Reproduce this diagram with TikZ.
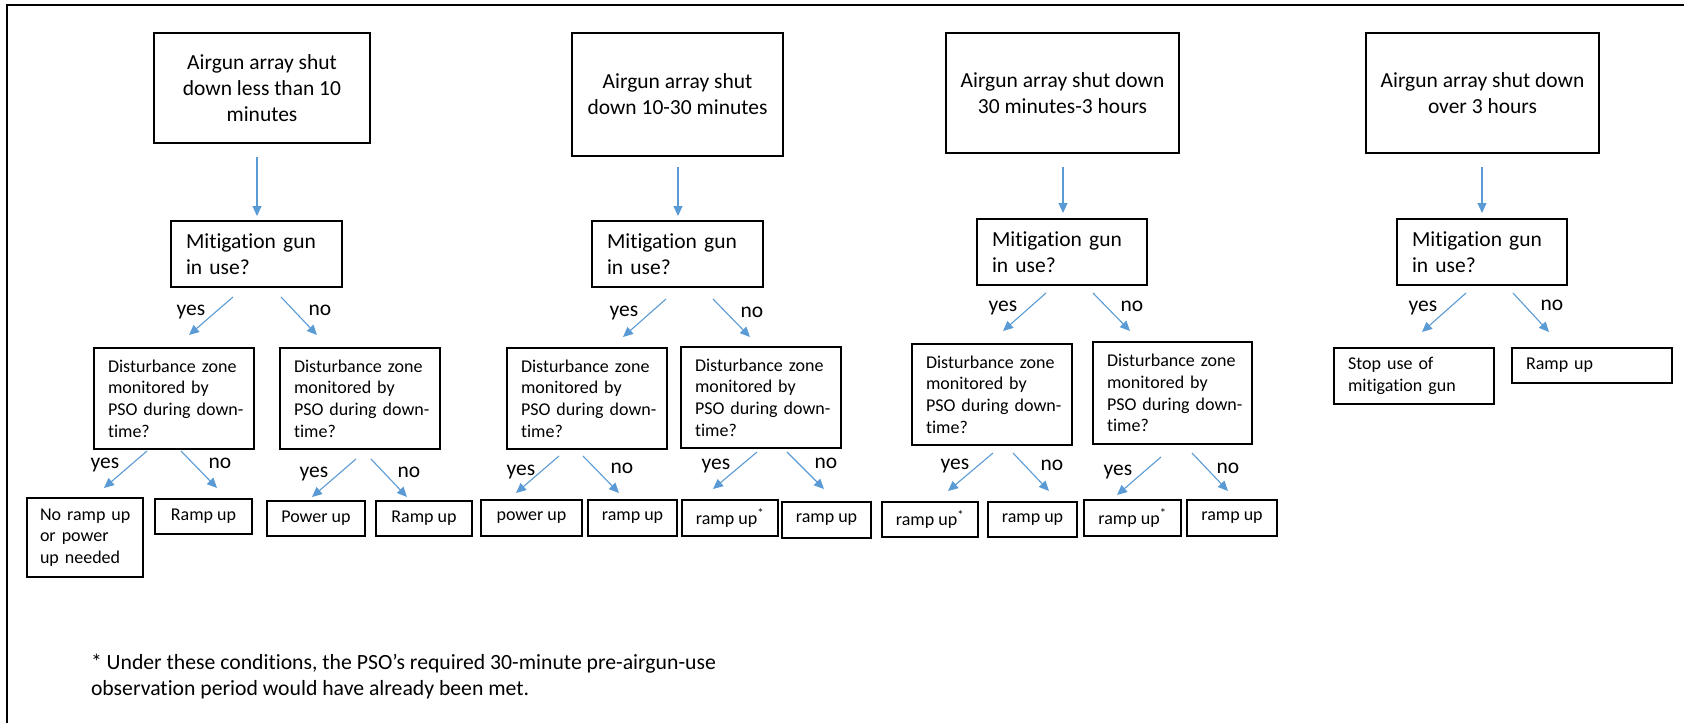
\documentclass[tikz,border=0pt]{standalone}
\usepackage{fontspec}
\setmainfont{Carlito}[Ligatures=NoCommon]
\usetikzlibrary{arrows.meta}
\definecolor{arrblue}{RGB}{91,155,213}
\newcommand\dzone{\mbox{Disturbance zone}\\\mbox{monitored by}\\\mbox{PSO during down-}\\time?}
\begin{document}
\begin{tikzpicture}[x=1pt,y=-1pt,
  every node/.style={inner sep=0pt, outer sep=0pt},
  frame/.style={line width=1.5pt},
  tbox/.style={draw, line width=1.4pt, align=center, font=\fontsize{21.5}{26}\selectfont},
  mbox/.style={draw, line width=1.4pt, align=left, inner xsep=15pt, minimum height=66pt, font=\fontsize{21.5}{26}\selectfont},
  dbox/.style={draw, line width=1.4pt, align=left, inner xsep=14pt, text width=132pt, minimum height=101pt, font=\fontsize{18}{21.7}\selectfont},
  rbox/.style={draw, line width=1.4pt, align=center, minimum height=35pt, font=\fontsize{18}{21}\selectfont},
  lbox/.style={draw, line width=1.4pt, align=left, inner xsep=14pt, font=\fontsize{18}{21.5}\selectfont},
  lab/.style={font=\fontsize{21.5}{25}\selectfont},
  arr/.style={draw=arrblue, line width=1.1pt, -{Triangle[length=10pt,width=9pt]}},
  fnote/.style={font=\fontsize{21.7}{26}\selectfont, align=left, anchor=west}
]
\fill[white] (0,0) rectangle (1684,723);
\useasboundingbox (0,0) rectangle (1684,723);
\draw[frame] (7,723) -- (7,5) -- (1684,5);

% ---------- column 1 ----------
\node[tbox, minimum width=216pt, minimum height=110pt] (top1) at (262,88) {Airgun array shut\\down less than 10\\minutes};
\node[mbox, text width=141pt] (mit1) at (256.5,254) {Mitigation gun\\in use?};
\node[dbox] (d1) at (174,398.5) {\dzone};
\node[dbox] (d2) at (360,398.5) {\dzone};
\node[lbox, inner xsep=13pt, text width=90pt, minimum height=79pt] (r1a) at (85,537.5) {\mbox{No ramp up}\\or power\\up needed};
\node[rbox, minimum width=97pt] (r1b) at (203.5,516.5) {Ramp up};
\node[rbox, minimum width=98pt] (r1c) at (316,518.5) {Power up};
\node[rbox, minimum width=96pt] (r1d) at (424,518.5) {Ramp up};

% ---------- column 2 ----------
\node[tbox, minimum width=211pt, minimum height=123pt] (top2) at (677.5,94.5) {Airgun array shut\\down 10-30 minutes};
\node[mbox, text width=141pt] (mit2) at (677.5,254) {Mitigation gun\\in use?};
\node[dbox] (d3) at (587,398.5) {\dzone};
\node[dbox] (d4) at (761,397.5) {\dzone};
\node[rbox, minimum width=101pt, minimum height=36pt] (r2a) at (531.5,518) {power up};
\node[rbox, minimum width=89pt, minimum height=36pt] (r2b) at (632.5,518) {ramp up};
\node[rbox, minimum width=96pt, minimum height=36pt] (r2c) at (730,518) {ramp up\textsuperscript{*}};
\node[rbox, minimum width=89pt, minimum height=36pt] (r2d) at (826.5,520) {ramp up};

% ---------- column 3 ----------
\node[tbox, minimum width=233pt, minimum height=120pt] (top3) at (1062.5,93) {Airgun array shut down\\30 minutes-3 hours};
\node[mbox, text width=140pt] (mit3) at (1062,252) {Mitigation gun\\in use?};
\node[dbox] (d5) at (992,394.5) {\dzone};
\node[dbox, text width=131pt, minimum height=102pt] (d6) at (1172.5,393) {\dzone};
\node[rbox, minimum width=96pt] (r3a) at (930,519.5) {ramp up\textsuperscript{*}};
\node[rbox, minimum width=89pt] (r3b) at (1032.5,519.5) {ramp up};
\node[rbox, minimum width=97pt, minimum height=36pt] (r3c) at (1132.5,518) {ramp up\textsuperscript{*}};
\node[rbox, minimum width=90pt, minimum height=36pt] (r3d) at (1232,518) {ramp up};

% ---------- column 4 ----------
\node[tbox, minimum width=233pt, minimum height=120pt] (top4) at (1482.5,93) {Airgun array shut down\\over 3 hours};
\node[mbox, text width=140pt] (mit4) at (1482,252) {Mitigation gun\\in use?};
\node[lbox, text width=132pt, minimum height=56pt] (r4a) at (1414,376) {Stop use of\\mitigation gun};
\node[lbox, text width=132pt, minimum height=35pt] (r4b) at (1592,365.5) {Ramp up};

% ---------- arrow end points ----------
\coordinate (v1s) at (257,157);   \coordinate (v1e) at (257,216);
\coordinate (m1ys) at (233,297);  \coordinate (m1ye) at (189,335);
\coordinate (m1ns) at (281,297);  \coordinate (m1ne) at (317,335);
\coordinate (d1ys) at (147,451);  \coordinate (d1ye) at (104,488);
\coordinate (d1ns) at (181,451);  \coordinate (d1ne) at (217,488);
\coordinate (d2ys) at (356,459);  \coordinate (d2ye) at (312,497);
\coordinate (d2ns) at (371,459);  \coordinate (d2ne) at (407,497);

\coordinate (v2s) at (678,167);   \coordinate (v2e) at (678,216);
\coordinate (m2ys) at (666,299);  \coordinate (m2ye) at (623,337);
\coordinate (m2ns) at (713,299);  \coordinate (m2ne) at (750,337);
\coordinate (d3ys) at (559,456);  \coordinate (d3ye) at (516,493);
\coordinate (d3ns) at (583,456);  \coordinate (d3ne) at (619,493);
\coordinate (d4ys) at (757,452);  \coordinate (d4ye) at (713,489);
\coordinate (d4ns) at (787,452);  \coordinate (d4ne) at (824,489);

\coordinate (v3s) at (1063,167);  \coordinate (v3e) at (1063,213);
\coordinate (m3ys) at (1046,293); \coordinate (m3ye) at (1003,331);
\coordinate (m3ns) at (1093,293); \coordinate (m3ne) at (1130,331);
\coordinate (d5ys) at (993,453);  \coordinate (d5ye) at (948,491);
\coordinate (d5ns) at (1013,453); \coordinate (d5ne) at (1049,491);
\coordinate (d6ys) at (1161,457); \coordinate (d6ye) at (1117,495);
\coordinate (d6ns) at (1192,453); \coordinate (d6ne) at (1228,491);

\coordinate (v4s) at (1482,167);  \coordinate (v4e) at (1482,213);
\coordinate (m4ys) at (1466,293); \coordinate (m4ye) at (1422,332);
\coordinate (m4ns) at (1513,293); \coordinate (m4ne) at (1549,332);

\foreach \a in {v1,m1y,m1n,d1y,d1n,d2y,d2n,v2,m2y,m2n,d3y,d3n,d4y,d4n,
                v3,m3y,m3n,d5y,d5n,d6y,d6n,v4,m4y,m4n}
  \draw[arr] (\a s) -- (\a e);

% ---------- yes / no labels ----------
\node[lab] (l1) at (191,312) {yes};   \node[lab] (l2) at (320,310) {no};
\node[lab] (l3) at (105,465) {yes};   \node[lab] (l4) at (220,463) {no};
\node[lab] (l5) at (314,474) {yes};   \node[lab] (l6) at (409,472) {no};
\node[lab] (l7) at (624,313) {yes};   \node[lab] (l8) at (752,312) {no};
\node[lab] (l9) at (521,472) {yes};   \node[lab] (l10) at (622,468) {no};
\node[lab] (l11) at (716,466) {yes};  \node[lab] (l12) at (826,463) {no};
\node[lab] (l13) at (1003,308) {yes}; \node[lab] (l14) at (1132,306) {no};
\node[lab] (l15) at (955,466) {yes};  \node[lab] (l16) at (1052,465) {no};
\node[lab] (l17) at (1118,472) {yes}; \node[lab] (l18) at (1228,468) {no};
\node[lab] (l19) at (1423,308) {yes}; \node[lab] (l20) at (1552,305) {no};

% ---------- footnote ----------
\node[fnote] (fn) at (91,677) {* Under these conditions, the PSO’s required 30-minute pre-airgun-use\\observation period would have already been met.};
\end{tikzpicture}
\end{document}
